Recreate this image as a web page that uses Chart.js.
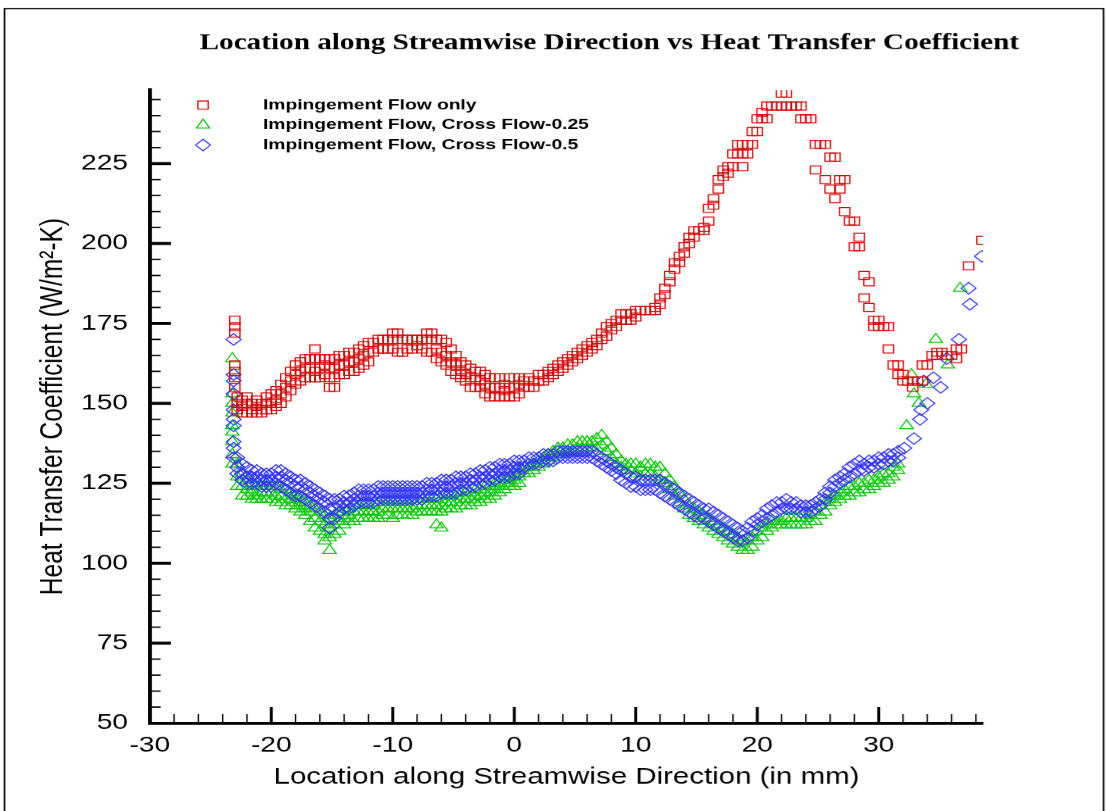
<!DOCTYPE html>
<html>
<head>
<meta charset="utf-8">
<script src="https://cdn.jsdelivr.net/npm/chart.js@4.4.1/dist/chart.umd.min.js"></script>
<style>
html, body { margin: 0; padding: 0; background: #fff; overflow: hidden; }
#chart { display: block; transform: scaleX(1.28); transform-origin: 0 0; }
</style>
</head>
<body>
<canvas id="chart" width="865" height="811" style="width:865px;height:811px"></canvas>
<script>
// the original picture is stretched sideways, so the canvas is drawn narrow and scaled by CSS
var chartTitle = "Location along Streamwise Direction vs Heat Transfer Coefficient";
var seriesNames = ["Impingement Flow only", "Impingement Flow, Cross Flow-0.25", "Impingement Flow, Cross Flow-0.5"];
var xTicks = [-30, -20, -10, 0, 10, 20, 30];
var yTicks = [50, 75, 100, 125, 150, 175, 200, 225];

// [location (mm), h (W/m2-K)]
var redPts = [
	[-23,176],[-23,174],[-23,172],[-23,162],[-23,160],[-23,158],[-23,155],
	[-22.8,152],[-22.8,150],[-22.8,148],[-22.4,151],[-22.4,149],[-22.4,147],
	[-22,152],[-22,150],[-22,147],[-21.6,150],[-21.6,148],[-21.6,147],
	[-21.2,151],[-21.2,149],[-21.2,147],[-20.8,150],[-20.8,148],[-20.8,147],
	[-20.4,152],[-20.4,150],[-20.4,148],[-20,153],[-20,150],[-20,148],
	[-19.6,154],[-19.6,151],[-19.6,149],[-19.2,156],[-19.2,153],[-19.2,150],
	[-18.8,158],[-18.8,155],[-18.8,152],[-18.4,160],[-18.4,157],[-18.4,154],
	[-18,162],[-18,159],[-18,156],[-17.6,163],[-17.6,160],[-17.6,157],
	[-17.2,164],[-17.2,161],[-17.2,158],[-16.8,164],[-16.8,161],[-16.8,158],
	[-16.4,167],[-16.4,164],[-16.4,160],[-16.4,158],[-16,164],[-16,161],[-16,158],
	[-15.6,164],[-15.6,162],[-15.6,159],[-15.2,164],[-15.2,161],[-15.2,158],[-15.2,155],
	[-14.8,164],[-14.8,161],[-14.8,158],[-14.8,155],[-14.4,165],[-14.4,162],[-14.4,159],
	[-14,165],[-14,162],[-14,159],[-13.6,166],[-13.6,163],[-13.6,160],
	[-13.2,166],[-13.2,163],[-13.2,160],[-12.8,167],[-12.8,164],[-12.8,161],
	[-12.4,168],[-12.4,165],[-12.4,162],[-12,169],[-12,166],[-12,163],
	[-11.6,169],[-11.6,166],[-11.2,170],[-11.2,167],[-10.8,170],[-10.8,167],
	[-10.4,170],[-10.4,167],[-10,172],[-10,170],[-10,167],[-9.6,172],[-9.6,170],[-9.6,166],
	[-9.2,170],[-9.2,166],[-8.8,170],[-8.8,167],[-8.4,170],[-8.4,167],[-8,170],[-8,168],
	[-7.6,170],[-7.6,167],[-7.2,172],[-7.2,170],[-7.2,166],[-6.8,172],[-6.8,170],[-6.8,166],
	[-6.4,170],[-6.4,167],[-6.4,164],[-6,170],[-6,166],[-6,163],[-5.6,169],[-5.6,165],[-5.6,162],
	[-5.2,167],[-5.2,163],[-5.2,160],[-4.8,165],[-4.8,162],[-4.8,159],[-4.4,163],[-4.4,160],[-4.4,158],
	[-4,162],[-4,159],[-4,157],[-3.6,161],[-3.6,158],[-3.6,155],[-3.2,160],[-3.2,158],[-3.2,155],
	[-2.8,160],[-2.8,157],[-2.8,155],[-2.4,159],[-2.4,156],[-2.4,153],[-2,158],[-2,155],[-2,152],
	[-1.6,158],[-1.6,155],[-1.6,152],[-1.2,158],[-1.2,155],[-1.2,152],[-0.8,156],[-0.8,154],[-0.8,152],
	[-0.4,158],[-0.4,155],[-0.4,152],[0,158],[0,155],[0,152],[0.4,158],[0.4,156],[0.4,153],
	[0.8,157],[0.8,155],[1.2,158],[1.2,155],[1.6,157],[1.6,155],[2,159],[2,157],
	[2.4,159],[2.4,157],[2.8,160],[2.8,158],[3.2,161],[3.2,159],[3.6,162],[3.6,160],
	[4,163],[4,161],[4.4,164],[4.4,162],[4.8,165],[4.8,163],[5.2,166],[5.2,164],
	[5.6,167],[5.6,165],[6,168],[6,166],[6.4,169],[6.4,167],[6.8,170],[6.8,168],
	[7.2,172],[7.2,170],[7.6,174],[7.6,171],[8,175],[8,173],[8.4,176],[8.4,174],
	[8.8,178],[8.8,176],[9.2,178],[9.2,176],[9.6,178],[9.6,176],[10,179],[10,177],
	[10.4,179],[10.8,179],[11.2,179],[11.6,180],[11.6,179],[12,183],[12,181],
	[12.4,186],[12.4,184],[12.8,190],[12.8,188],[13.2,194],[13.2,192],[13.6,196],[13.6,194],
	[14,199],[14,197],[14.4,202],[14.4,200],[14.8,204],[14.8,202],[15.2,204],[15.6,205],[15.6,204],
	[16,211],[16,207],[16.4,214],[16.4,212],[16.8,220],[16.8,217],[17.2,223],[17.2,221],
	[17.6,224],[17.6,222],[18,228],[18,224],[18.4,231],[18.4,228],[18.8,231],[18.8,228],[18.8,224],
	[19.2,231],[19.2,228],[19.6,235],[19.6,231],[20,239],[20,235],[20.4,241],[20.4,239],
	[20.8,243],[20.8,239],[21.2,243],[21.6,243],[22,247],[22,243],[22.4,247],[22.4,243],
	[22.8,243],[23.2,243],[23.6,243],[23.6,239],[24,239],[24.4,239],
	[24.8,231],[24.8,223],[25.2,231],[25.6,231],[25.6,220],[26,227],[26,217],[26.4,227],[26.4,214],
	[26.8,220],[26.8,217],[27.2,220],[27.2,210],[27.6,207],[28,207],[28,199],[28.4,202],[28.4,199],
	[28.8,190],[28.8,183],[29.2,188],[29.2,180],[29.6,176],[29.6,174],[30,176],[30,174],
	[30.4,174],[30.8,174],[30.8,167],[31.2,162],[31.6,162],[31.6,159],[32,159],[32,157],
	[32.4,157],[32.8,157],[32.8,155],[33.2,157],[33.6,162],[33.6,157],[34,162],[34.4,165],
	[34.8,166],[34.8,165],[35.2,166],[35.6,165],[36,165],[36.4,167],[36.4,164],[36.8,167],
	[37.4,193],[38.5,201]
];

var greenPts = [
	[-23.2,164],[-23.2,153],[-23.2,150],[-23.2,147],[-23.2,143],[-23.2,141],[-23.2,138],[-23.2,134],[-23.2,131],
	[-22.8,131],[-22.8,127],[-22.8,124],[-22.4,128],[-22.4,124],[-22.4,121],
	[-22,126],[-22,123],[-22,121],[-21.6,125],[-21.6,122],[-21.6,120],
	[-21.2,124],[-21.2,121],[-21.2,120],[-20.8,124],[-20.8,122],[-20.8,120],
	[-20.4,125],[-20.4,122],[-20.4,120],[-20,124],[-20,122],[-20,120],
	[-19.6,124],[-19.6,121],[-19.6,119],[-19.2,123],[-19.2,121],[-19.2,119],
	[-18.8,123],[-18.8,120],[-18.8,118],[-18.4,122],[-18.4,120],[-18.4,118],
	[-18,121],[-18,119],[-18,117],[-17.6,120],[-17.6,118],[-17.6,116],
	[-17.2,119],[-17.2,117],[-17.2,115],[-16.8,118],[-16.8,116],[-16.8,113],
	[-16.4,117],[-16.4,114],[-16.4,111],[-16,116],[-16,113],[-16,110],
	[-15.6,115],[-15.6,112],[-15.6,109],[-15.6,107],[-15.2,114],[-15.2,111],[-15.2,108],[-15.2,104],
	[-14.8,115],[-14.8,112],[-14.8,109],[-14.4,116],[-14.4,113],[-14.4,110],
	[-14,117],[-14,114],[-14,112],[-13.6,117],[-13.6,115],[-13.6,113],
	[-13.2,118],[-13.2,116],[-13.2,113],[-12.8,118],[-12.8,116],[-12.8,114],
	[-12.4,118],[-12.4,116],[-12.4,114],[-12,118],[-12,116],[-12,114],
	[-11.6,118],[-11.6,116],[-11.6,114],[-11.2,119],[-11.2,116],[-11.2,114],
	[-10.8,119],[-10.8,117],[-10.8,115],[-10.4,119],[-10.4,117],[-10.4,115],
	[-10,119],[-10,117],[-10,114],[-9.6,119],[-9.6,117],[-9.6,115],
	[-9.2,119],[-9.2,117],[-9.2,115],[-8.8,119],[-8.8,117],[-8.8,115],
	[-8.4,120],[-8.4,117],[-8.4,115],[-8,120],[-8,118],[-8,116],
	[-7.6,120],[-7.6,118],[-7.6,116],[-7.2,120],[-7.2,118],[-7.2,116],
	[-6.8,120],[-6.8,118],[-6.8,116],[-6.4,120],[-6.4,118],[-6.4,116],[-6.4,112],
	[-6,120],[-6,118],[-6,116],[-6,111],[-5.6,121],[-5.6,119],[-5.6,117],
	[-5.2,121],[-5.2,119],[-5.2,117],[-4.8,121],[-4.8,119],[-4.8,117],
	[-4.4,122],[-4.4,120],[-4.4,118],[-4,122],[-4,120],[-4,118],
	[-3.6,122],[-3.6,120],[-3.6,118],[-3.2,123],[-3.2,121],[-3.2,119],
	[-2.8,123],[-2.8,121],[-2.8,119],[-2.4,124],[-2.4,122],[-2.4,120],
	[-2,124],[-2,122],[-2,120],[-1.6,125],[-1.6,123],[-1.6,121],
	[-1.2,126],[-1.2,124],[-1.2,122],[-0.8,127],[-0.8,125],[-0.8,123],
	[-0.4,127],[-0.4,125],[-0.4,124],[0,128],[0,126],[0,124],[0.4,129],[0.4,127],[0.4,125],
	[0.8,130],[0.8,128],[1.2,130],[1.2,128],[1.6,131],[1.6,129],[2,132],[2,130],
	[2.4,133],[2.4,131],[2.8,134],[2.8,132],[3.2,135],[3.2,133],[3.6,136],[3.6,134],
	[4,136],[4,134],[4.4,137],[4.4,135],[4.8,137],[4.8,135],[5.2,138],[5.2,136],
	[5.6,138],[5.6,136],[6,138],[6,136],[6.4,138],[6.4,136],[6.8,139],[6.8,136],
	[7.2,140],[7.2,137],[7.6,138],[7.6,135],[8,136],[8,133],[8.4,134],[8.4,131],
	[8.8,132],[8.8,130],[9.2,131],[9.2,129],[9.6,131],[9.6,129],[10,131],[10,128],
	[10.4,130],[10.4,127],[10.8,131],[10.8,128],[11.2,131],[11.2,128],[11.6,130],[11.6,127],
	[12,130],[12,126],[12.4,128],[12.4,125],[12.8,126],[12.8,123],[13.2,124],[13.2,121],
	[13.6,122],[13.6,119],[14,120],[14,117],[14.4,118],[14.4,115],[14.8,117],[14.8,114],
	[15.2,116],[15.2,113],[15.6,115],[15.6,112],[16,114],[16,111],[16.4,113],[16.4,110],
	[16.8,112],[16.8,109],[17.2,111],[17.2,108],[17.6,110],[17.6,107],[18,109],[18,106],
	[18.4,108],[18.4,105],[18.8,107],[18.8,104],[19.2,107],[19.2,104],[19.6,108],[19.6,105],
	[20,110],[20,107],[20.4,111],[20.4,108],[20.8,112],[20.8,110],[21.2,113],[21.2,111],
	[21.6,113],[21.6,112],[22,113],[22,112],[22.4,114],[22.4,112],[22.8,114],[22.8,112],
	[23.2,114],[23.2,112],[23.6,114],[23.6,112],[24,114],[24,112],[24.4,115],[24.4,113],
	[24.8,116],[24.8,113],[25.2,118],[25.2,115],[25.6,119],[25.6,116],[26,120],[26,118],
	[26.4,121],[26.4,119],[26.8,122],[26.8,120],[27.2,123],[27.2,121],[27.6,124],[27.6,121],
	[28,124],[28,122],[28.4,125],[28.4,122],[28.8,125],[28.8,123],[29.2,126],[29.2,123],
	[29.6,126],[29.6,124],[30,127],[30,125],[30.4,128],[30.4,125],[30.8,128],[30.8,126],
	[31.2,130],[31.2,127],[31.6,131],[31.6,129],
	[32.3,143],[32.7,159],[32.9,153],[33.3,150],[33.9,156],[34.7,170],[35.7,162],[36.7,186]
];

var bluePts = [
	[-23.1,170],[-23.1,159],[-23.1,157],[-23.1,153],[-23.1,148],[-23.1,145],[-23.1,143],[-23.1,138],[-23.1,136],[-23.1,133],
	[-22.8,133],[-22.8,130],[-22.8,128],[-22.4,131],[-22.4,128],[-22.4,126],
	[-22,130],[-22,127],[-22,125],[-21.6,129],[-21.6,127],[-21.6,125],
	[-21.2,129],[-21.2,127],[-21.2,125],[-20.8,128],[-20.8,126],[-20.8,124],
	[-20.4,128],[-20.4,126],[-20.4,124],[-20,128],[-20,126],[-20,124],
	[-19.6,129],[-19.6,127],[-19.6,125],[-19.2,129],[-19.2,127],[-19.2,124],
	[-18.8,128],[-18.8,126],[-18.8,123],[-18.4,127],[-18.4,125],[-18.4,122],
	[-18,126],[-18,124],[-18,121],[-17.6,126],[-17.6,124],[-17.6,121],
	[-17.2,125],[-17.2,123],[-17.2,120],[-16.8,124],[-16.8,122],[-16.8,119],
	[-16.4,123],[-16.4,121],[-16.4,118],[-16,122],[-16,120],[-16,117],
	[-15.6,121],[-15.6,119],[-15.6,116],[-15.2,120],[-15.2,117],[-15.2,114],[-15.2,111],
	[-14.8,120],[-14.8,117],[-14.8,114],[-14.4,120],[-14.4,118],[-14.4,116],
	[-14,121],[-14,119],[-14,117],[-13.6,121],[-13.6,119],[-13.6,117],
	[-13.2,122],[-13.2,120],[-13.2,118],[-12.8,123],[-12.8,121],[-12.8,119],
	[-12.4,123],[-12.4,121],[-12.4,119],[-12,123],[-12,121],[-12,119],
	[-11.6,123],[-11.6,121],[-11.6,119],[-11.2,124],[-11.2,122],[-11.2,120],
	[-10.8,124],[-10.8,122],[-10.8,120],[-10.4,124],[-10.4,122],[-10.4,120],
	[-10,124],[-10,122],[-10,120],[-9.6,124],[-9.6,122],[-9.6,120],
	[-9.2,124],[-9.2,122],[-9.2,120],[-8.8,124],[-8.8,122],[-8.8,120],
	[-8.4,124],[-8.4,122],[-8.4,120],[-8,124],[-8,122],[-8,120],
	[-7.6,124],[-7.6,122],[-7.6,120],[-7.2,125],[-7.2,123],[-7.2,121],
	[-6.8,125],[-6.8,123],[-6.8,121],[-6.4,125],[-6.4,123],[-6.4,121],
	[-6,126],[-6,124],[-6,122],[-5.6,126],[-5.6,124],[-5.6,122],
	[-5.2,126],[-5.2,124],[-5.2,122],[-4.8,127],[-4.8,125],[-4.8,122],
	[-4.4,127],[-4.4,125],[-4.4,123],[-4,127],[-4,125],[-4,123],
	[-3.6,128],[-3.6,126],[-3.6,124],[-3.2,128],[-3.2,126],[-3.2,124],
	[-2.8,129],[-2.8,127],[-2.8,125],[-2.4,129],[-2.4,127],[-2.4,125],
	[-2,130],[-2,128],[-2,126],[-1.6,130],[-1.6,128],[-1.6,126],
	[-1.2,131],[-1.2,129],[-1.2,127],[-0.8,131],[-0.8,129],[-0.8,127],
	[-0.4,131],[-0.4,129],[-0.4,127],[0,132],[0,130],[0,128],[0.4,132],[0.4,130],[0.4,128],
	[0.8,132],[0.8,130],[1.2,133],[1.2,131],[1.6,133],[1.6,131],[2,133],[2,131],
	[2.4,134],[2.4,132],[2.8,134],[2.8,132],[3.2,134],[3.2,132],[3.6,135],[3.6,133],
	[4,135],[4,133],[4.4,135],[4.4,133],[4.8,135],[4.8,133],[5.2,135],[5.2,133],
	[5.6,135],[5.6,133],[6,135],[6,133],[6.4,135],[6.4,133],[6.8,134],[6.8,132],
	[7.2,133],[7.2,131],[7.6,132],[7.6,130],[8,131],[8,129],[8.4,130],[8.4,128],
	[8.8,129],[8.8,126],[9.2,128],[9.2,125],[9.6,127],[9.6,124],[10,127],[10,124],
	[10.4,126],[10.4,123],[10.8,126],[10.8,123],[11.2,126],[11.2,123],[11.6,126],[11.6,123],
	[12,126],[12,122],[12.4,125],[12.4,121],[12.8,124],[12.8,120],[13.2,123],[13.2,119],
	[13.6,122],[13.6,118],[14,121],[14,117],[14.4,120],[14.4,116],[14.8,119],[14.8,115],
	[15.2,118],[15.2,114],[15.6,117],[15.6,114],[16,117],[16,113],[16.4,116],[16.4,112],
	[16.8,115],[16.8,111],[17.2,114],[17.2,110],[17.6,113],[17.6,109],[18,112],[18,108],
	[18.4,111],[18.4,107],[18.8,110],[18.8,107],[19.2,111],[19.2,108],[19.6,113],[19.6,110],
	[20,114],[20,112],[20.4,115],[20.4,113],[20.8,117],[20.8,114],[21.2,118],[21.2,115],
	[21.6,119],[21.6,116],[22,119],[22,117],[22.4,120],[22.4,117],[22.8,119],[22.8,117],
	[23.2,119],[23.2,117],[23.6,118],[23.6,116],[24,118],[24,116],[24.4,118],[24.4,116],
	[24.8,119],[24.8,117],[25.2,120],[25.2,118],[25.6,122],[25.6,120],[26,124],[26,122],
	[26.4,126],[26.4,124],[26.8,127],[26.8,125],[27.2,128],[27.2,126],[27.6,130],[27.6,127],
	[28,131],[28,128],[28.4,132],[28.4,129],[28.8,131],[28.8,129],[29.2,132],[29.2,130],
	[29.6,132],[29.6,130],[30,133],[30,131],[30.4,133],[30.4,131],[30.8,134],[30.8,132],
	[31.2,134],[31.2,132],[31.6,135],[31.6,133],
	[32.1,136],[32.9,139],[33.4,145],[33.5,148],[33.7,157],[34,150],[34.5,158],[35.1,155],
	[35.6,164],[36.6,170],[37.5,181],[37.4,186],[38.5,196]
];

var colors = ["#d40000", "#00c800", "#3333ff"];
var styles = ["rect", "triangle", "rectRot"];
var sizes = [5.7, 6, 5.8];

Chart.defaults.font.family = "'Liberation Sans', Arial, sans-serif";
Chart.defaults.color = "#000";

var decor = {
	id: "decor",
	afterDraw: function(chart) {
		var ctx = chart.ctx;
		var xs = chart.scales.x, ys = chart.scales.y;
		var a = chart.chartArea;
		var i, v, p;
		ctx.save();
		ctx.strokeStyle = "#000";

		// ticks pointing into the plot
		for (v = -28; v <= 38; v += 2) {
			p = xs.getPixelForValue(v);
			var major = xTicks.indexOf(v) >= 0;
			ctx.lineWidth = major ? 2.3 : 1.1;
			ctx.beginPath();
			ctx.moveTo(p, a.bottom);
			ctx.lineTo(p, a.bottom - (major ? 16 : 9));
			ctx.stroke();
		}
		for (v = 55; v <= 245; v += 5) {
			p = ys.getPixelForValue(v);
			var maj = yTicks.indexOf(v) >= 0;
			ctx.lineWidth = maj ? 3 : 1.4;
			ctx.beginPath();
			ctx.moveTo(a.left, p);
			ctx.lineTo(a.left + (maj ? 16.5 : 8.5), p);
			ctx.stroke();
		}

		// frame
		ctx.lineWidth = 1.3;
		ctx.strokeRect(3.5, 8.5, 858.5, 820);

		// title
		ctx.fillStyle = "#000";
		ctx.font = "bold 22.8px 'Liberation Serif', 'Times New Roman', serif";
		ctx.textAlign = "center";
		ctx.textBaseline = "middle";
		ctx.fillText(chartTitle, 476, 43);

		// legend
		ctx.font = "bold 15px 'Liberation Sans', Arial, sans-serif";
		ctx.textAlign = "left";
		for (i = 0; i < seriesNames.length; i++) {
			var y = 105 + 20 * i;
			ctx.strokeStyle = colors[i];
			ctx.fillStyle = "rgba(0,0,0,0)";
			ctx.lineWidth = 1;
			Chart.helpers.drawPoint(ctx, {pointStyle: styles[i], radius: sizes[i], borderWidth: 1, rotation: 0}, 158.6, y);
			ctx.fillStyle = "#000";
			ctx.fillText(seriesNames[i], 205.5, y);
		}
		ctx.restore();
	}
};

function series(i, pts, order) {
	return {
		label: seriesNames[i],
		data: pts,
		showLine: false,
		pointStyle: styles[i],
		pointRadius: sizes[i],
		pointHoverRadius: sizes[i],
		pointBorderWidth: 1,
		borderColor: colors[i],
		pointBorderColor: colors[i],
		backgroundColor: "rgba(0,0,0,0)",
		pointBackgroundColor: "rgba(0,0,0,0)",
		order: order
	};
}

var ctx = document.getElementById("chart");
var myChart = new Chart(ctx, {
	type: "scatter",
	data: {
		datasets: [
			series(0, redPts, 0),
			series(1, greenPts, 2),
			series(2, bluePts, 1)
		]
	},
	options: {
		responsive: false,
		devicePixelRatio: 1.28,
		animation: false,
		layout: { padding: { left: 0, right: 97, top: 90, bottom: 0 } },
		plugins: {
			legend: { display: false },
			tooltip: { enabled: false }
		},
		scales: {
			x: {
				type: "linear",
				min: -30,
				max: 38.6,
				grid: { display: false },
				border: { display: true, color: "#000", width: 3 },
				ticks: { font: { size: 22 }, padding: 1, color: "#000", includeBounds: false },
				afterBuildTicks: function(s) { s.ticks = xTicks.map(function(v) { return {value: v}; }); },
				afterFit: function(s) { s.height = 88; },
				title: {
					display: true,
					text: "Location along Streamwise Direction (in mm)",
					font: { size: 23 },
					color: "#000",
					padding: { top: 0, bottom: 20 }
				}
			},
			y: {
				type: "linear",
				min: 50,
				max: 248,
				grid: { display: false },
				border: { display: true, color: "#000", width: 3 },
				ticks: { font: { size: 22 }, padding: 9, color: "#000", includeBounds: false },
				afterBuildTicks: function(s) { s.ticks = yTicks.map(function(v) { return {value: v}; }); },
				afterFit: function(s) { s.width = 117; },
				title: {
					display: true,
					text: "Heat Transfer Coefficient (W/m²-K)",
					font: { size: 24.5 },
					color: "#000",
					padding: { top: 27, bottom: 0 }
				}
			}
		}
	},
	plugins: [decor]
});
</script>
</body>
</html>
